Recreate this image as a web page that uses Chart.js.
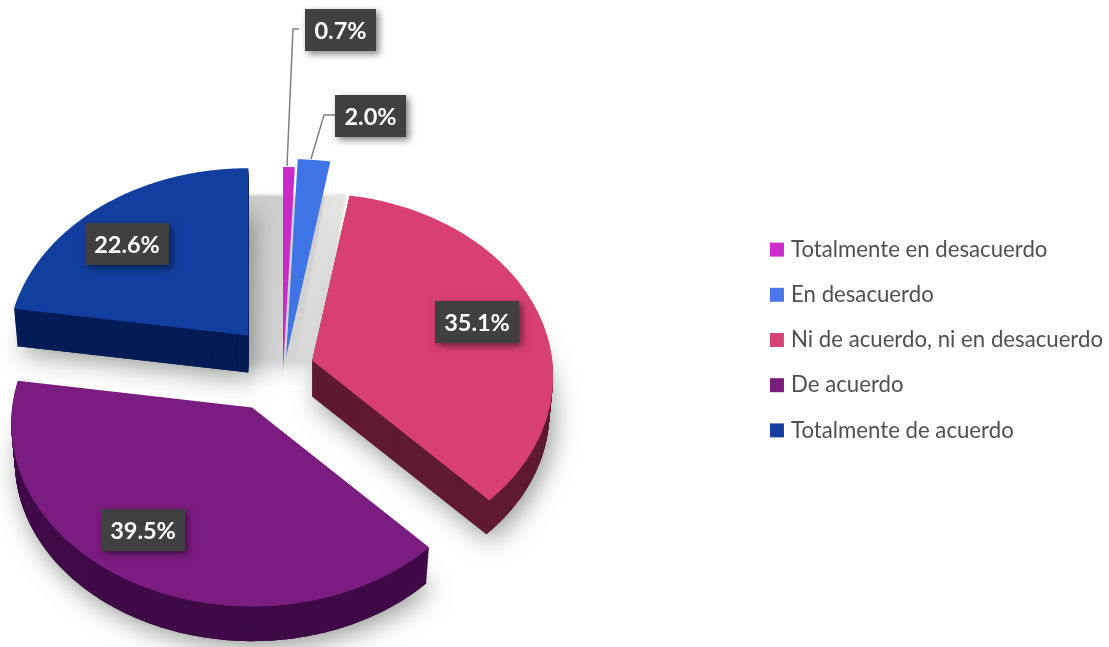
<!DOCTYPE html>
<html lang="es">
<head>
<meta charset="utf-8">
<title>Grado de acuerdo</title>
<style>
  html, body { margin: 0; padding: 0; background: #fff; }
  canvas { display: block; }
</style>
<script src="https://cdn.jsdelivr.net/npm/chart.js@4/dist/chart.umd.min.js"></script>
</head>
<body>
<canvas id="pie" width="1109" height="647"></canvas>
<script>
const categories = ['Totalmente en desacuerdo', 'En desacuerdo', 'Ni de acuerdo, ni en desacuerdo', 'De acuerdo', 'Totalmente de acuerdo'];
const percentages = [0.7, 2.0, 35.1, 39.5, 22.6];
const explosion = [8, 8, 164, 164, 164];
const topColors = ['#c92bc9', '#3f74e6', '#d83f72', '#7b1c80', '#123f9f'];
const sideColors = ['#7c1a7c', '#224a9c', '#5f1a30', '#3f0a47', '#041c56'];
const legendColors = ['#cc2dcc', '#4a78e8', '#d64474', '#7a1c7e', '#153e9e'];

// Tilted-plane projection of the flat pie.
const TILT = 0.757, PERSPECTIVE = 0.00036;
const PIE_SHIFT_X = -101.5, PIE_CY = 372;

// Per-slice drawing settings: screen nudge of the tip, radial stretch, extrusion depth.
const nudge = [[9, 0], [12, -14], [-1, -2.4], [-3, 8], [1, -13]];
const stretch = [1.24, 1.2, 1, 1, 1];
const depth = [0, 0, 36, 38, 37];
const drawOrder = [4, 0, 1, 2, 3];

// Value boxes: centre of each box, and the elbow leader where one exists.
const boxCentres = [[340.5, 30], [370.5, 116], [477, 322], [143, 530], [127, 244]];
const leaders = [
  [[287, 166], [293, 29], [299, 29]],
  [[311, 159], [324, 115], [335, 115]],
  null, null, null
];

function slicePath(ctx, arc, i, dy, shrink) {
  const a0 = arc.startAngle, a1 = arc.endAngle, R = arc.outerRadius * stretch[i];
  const mid = (a0 + a1) / 2, d = (arc.options.offset || 0) / 4;
  const tipX = arc.x + PIE_SHIFT_X + Math.cos(mid) * d + nudge[i][0];
  const tipY = PIE_CY + Math.sin(mid) * d * TILT + nudge[i][1];
  const steps = Math.max(4, Math.ceil((a1 - a0) * 60));
  ctx.beginPath();
  ctx.moveTo(tipX, tipY + dy);
  for (let s = 0; s <= steps; s++) {
    const a = a0 + (a1 - a0) * s / steps;
    const u = R * Math.cos(a) * shrink, v = R * Math.sin(a) * shrink;
    const k = 1 / (1 - PERSPECTIVE * v);
    ctx.lineTo(tipX + u * k, tipY + dy + TILT * v * k);
  }
  ctx.closePath();
}

const pie3d = {
  id: 'pie3d',
  beforeDatasetDraw(chart) {
    const ctx = chart.ctx, arcs = chart.getDatasetMeta(0).data;

    // Grey back wall visible between the separated slices.
    ctx.save();
    const wall = ctx.createLinearGradient(0, 195, 0, 392);
    wall.addColorStop(0, '#cecece');
    wall.addColorStop(0.84, '#d4d4d4');
    wall.addColorStop(1, 'rgba(255,255,255,0)');
    ctx.filter = 'blur(1.5px)';
    ctx.fillStyle = wall;
    ctx.beginPath();
    ctx.moveTo(246, 195); ctx.lineTo(346, 195); ctx.lineTo(312, 392); ctx.lineTo(246, 392);
    ctx.closePath();
    ctx.fill();
    ctx.restore();

    // Paler band of the wall next to the large pink slice.
    ctx.save();
    const band = ctx.createLinearGradient(292, 0, 332, 0);
    band.addColorStop(0, 'rgba(255,255,255,0)');
    band.addColorStop(1, 'rgba(240,242,236,0.6)');
    ctx.fillStyle = band;
    ctx.beginPath();
    ctx.moveTo(325, 195); ctx.lineTo(346, 195); ctx.lineTo(312, 392); ctx.lineTo(290, 392);
    ctx.closePath();
    ctx.fill();
    ctx.restore();

    // Soft drop shadows under the three large slices.
    [4, 2, 3].forEach(i => {
      ctx.save();
      ctx.shadowColor = 'rgba(60,70,60,0.55)';
      ctx.shadowBlur = 26;
      ctx.shadowOffsetX = 4;
      ctx.shadowOffsetY = 6;
      ctx.fillStyle = sideColors[i];
      slicePath(ctx, arcs[i], i, depth[i], 0.985);
      ctx.fill();
      ctx.restore();
    });

    drawOrder.forEach(i => {
      const arc = arcs[i];
      ctx.fillStyle = sideColors[i];
      for (let dy = depth[i]; dy > 0; dy--) {
        slicePath(ctx, arc, i, dy, 1 - 0.015 * dy / (depth[i] || 1));
        ctx.fill();
      }
      ctx.fillStyle = topColors[i];
      slicePath(ctx, arc, i, 0, 1);
      ctx.fill();
    });
    return false;
  },
  afterDatasetsDraw(chart) {
    const ctx = chart.ctx;
    ctx.save();
    ctx.strokeStyle = '#808080';
    ctx.lineWidth = 1.5;
    leaders.forEach(pts => {
      if (!pts) return;
      ctx.beginPath();
      pts.forEach((p, n) => n ? ctx.lineTo(p[0], p[1]) : ctx.moveTo(p[0], p[1]));
      ctx.stroke();
    });
    ctx.font = 'bold 23.5px Lato';
    ctx.textAlign = 'center';
    ctx.textBaseline = 'middle';
    percentages.forEach((value, i) => {
      const [cx, cy] = boxCentres[i];
      const w = i < 2 ? 71 : 84, h = 42;
      ctx.save();
      ctx.shadowColor = 'rgba(0,0,0,0.5)';
      ctx.shadowBlur = 7;
      ctx.shadowOffsetX = 3;
      ctx.shadowOffsetY = 3;
      ctx.fillStyle = '#404040';
      ctx.fillRect(cx - w / 2, cy - h / 2, w, h);
      ctx.restore();
      ctx.fillStyle = '#ffffff';
      ctx.fillText(value.toFixed(1) + '%', cx, cy + 1);
    });
    ctx.restore();
  }
};

new Chart(document.getElementById('pie'), {
  type: 'pie',
  data: {
    labels: categories,
    datasets: [{ data: percentages, backgroundColor: legendColors, offset: explosion, borderWidth: 0, hoverOffset: 0 }]
  },
  options: {
    responsive: false,
    animation: false,
    rotation: 0,
    radius: 240,
    layout: { padding: { top: 33, right: -4, bottom: 0, left: 0 } },
    plugins: {
      tooltip: { enabled: false },
      legend: {
        position: 'right',
        align: 'center',
        labels: {
          usePointStyle: true,
          pointStyle: 'rect',
          boxWidth: 6,
          boxHeight: 14,
          padding: 23,
          color: '#505050',
          font: { family: 'Lato', size: 22.2 }
        }
      }
    }
  },
  plugins: [pie3d]
});
</script>
</body>
</html>
